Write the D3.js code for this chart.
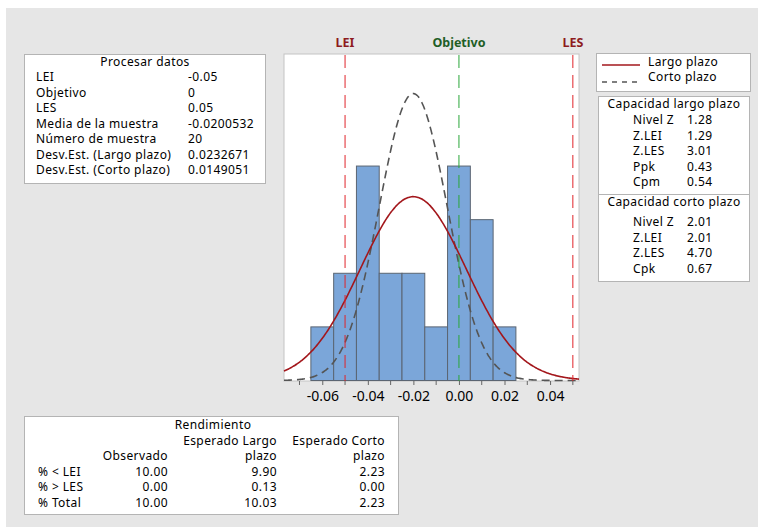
<!DOCTYPE html>
<html>
<head>
<meta charset="utf-8">
<script src="https://cdn.jsdelivr.net/npm/d3@7"></script>
<style>
  body { margin: 0; background: #fff; }
  svg text { font-family: "Noto Sans", sans-serif; fill: #000; }
</style>
</head>
<body>
<div id="chart"></div>
<script>
// histogram data (bin width 0.01)
var binStarts = [-0.065, -0.055, -0.045, -0.035, -0.025, -0.015, -0.005, 0.005, 0.015];
var counts = [1, 2, 4, 2, 2, 1, 4, 3, 1];
var binWidth = 0.01;

// spec limits and sample stats
var LEI = -0.05, objetivo = 0, LES = 0.05;
var media = -0.0200532;
var nMuestra = 20;
var sdLargo = 0.0232671;
var sdCorto = 0.0149051;

// axis ticks
var majorTicks = [-0.06, -0.04, -0.02, 0.00, 0.02, 0.04];
var minorTicks = [-0.07, -0.05, -0.03, -0.01, 0.01, 0.03, 0.05];

// text tables
var procesarLabels = ["LEI", "Objetivo", "LES", "Media de la muestra", "Número de muestra", "Desv.Est. (Largo plazo)", "Desv.Est. (Corto plazo)"];
var procesarValues = ["-0.05", "0", "0.05", "-0.0200532", "20", "0.0232671", "0.0149051"];
var largoLabels = ["Nivel Z", "Z.LEI", "Z.LES", "Ppk", "Cpm"];
var largoValues = ["1.28", "1.29", "3.01", "0.43", "0.54"];
var cortoLabels = ["Nivel Z", "Z.LEI", "Z.LES", "Cpk"];
var cortoValues = ["2.01", "2.01", "4.70", "0.67"];
var rendRows = ["% < LEI", "% > LES", "% Total"];
var rendObservado = ["10.00", "0.00", "10.00"];
var rendLargo = ["9.90", "0.13", "10.03"];
var rendCorto = ["2.23", "0.00", "2.23"];

var svgWidth = 758, svgHeight = 527;

var svg = d3.select("#chart")
  .append("svg")
  .attr("width", svgWidth)
  .attr("height", svgHeight);

// gray background panel
svg.append("rect")
  .attr("x", 6).attr("y", 8)
  .attr("width", svgWidth - 6).attr("height", svgHeight - 8)
  .attr("fill", "#e6e6e6");

// plot area
var plot = { left: 284, right: 579, top: 54, bottom: 381 };

var x = d3.scaleLinear()
  .domain([-0.0768, 0.0527])
  .range([plot.left, plot.right]);

var y = d3.scaleLinear()
  .domain([0, 6.09])
  .range([380.5, plot.top]);

svg.append("rect")
  .attr("x", plot.left).attr("y", plot.top)
  .attr("width", plot.right - plot.left).attr("height", plot.bottom - plot.top)
  .attr("fill", "#fff")
  .attr("stroke", "#c4c4c4");

// bars
svg.selectAll("rect.bar")
  .data(binStarts)
  .enter()
  .append("rect")
  .classed("bar", true)
  .attr("x", d => x(d))
  .attr("y", (d, i) => y(counts[i]))
  .attr("width", d => x(d + binWidth) - x(d))
  .attr("height", (d, i) => y(0) - y(counts[i]))
  .attr("fill", "#7ba6d9")
  .attr("stroke", "#5b6572")
  .attr("stroke-width", 1);

// fitted normal curves, scaled to counts
function normalCurve(sd) {
  var pts = [];
  var x0 = x.domain()[0], x1 = x.domain()[1];
  for (var v = x0; v <= x1 + 1e-9; v += 0.0005) {
    var z = (v - media) / sd;
    var dens = Math.exp(-0.5 * z * z) / (sd * Math.sqrt(2 * Math.PI));
    pts.push([v, dens * nMuestra * binWidth]);
  }
  return pts;
}

var line = d3.line()
  .x(d => x(d[0]))
  .y(d => y(d[1]))
  .curve(d3.curveBasis);

svg.append("path")
  .datum(normalCurve(sdCorto))
  .attr("d", line)
  .attr("fill", "none")
  .attr("stroke", "#555")
  .attr("stroke-width", 1.6)
  .attr("stroke-dasharray", "8,5");

svg.append("path")
  .datum(normalCurve(sdLargo))
  .attr("d", line)
  .attr("fill", "none")
  .attr("stroke", "#a3171c")
  .attr("stroke-width", 1.6);

// reference lines
var refLines = [
  { v: LEI, name: "LEI", line: "#e0242a", label: "#8e1b1e" },
  { v: objetivo, name: "Objetivo", line: "#2aa63a", label: "#1f5e26" },
  { v: LES, name: "LES", line: "#e0242a", label: "#8e1b1e" }
];

svg.selectAll("line.ref")
  .data(refLines)
  .enter()
  .append("line")
  .attr("x1", d => x(d.v)).attr("x2", d => x(d.v))
  .attr("y1", plot.top + 1).attr("y2", plot.bottom)
  .attr("stroke", d => d.line)
  .attr("stroke-width", 1)
  .attr("stroke-dasharray", "13,7");

svg.selectAll("text.ref")
  .data(refLines)
  .enter()
  .append("text")
  .attr("x", d => x(d.v))
  .attr("y", 47)
  .attr("text-anchor", "middle")
  .style("font-size", "12.5px")
  .style("font-weight", "bold")
  .style("fill", d => d.label)
  .text(d => d.name);

// x axis
var bottomAxis = d3.axisBottom(x)
  .tickValues(majorTicks)
  .tickSize(4)
  .tickFormat(d => d.toFixed(2));

var axisG = svg.append("g")
  .attr("transform", `translate(0, ${plot.bottom})`)
  .call(bottomAxis);
axisG.select(".domain").remove();
axisG.selectAll("line").attr("stroke", "#666");
axisG.selectAll("text")
  .attr("dy", "0.95em")
  .style("font-size", "14px")
  .style("font-family", "Noto Sans, sans-serif")
  .style("fill", "#000");

svg.selectAll("line.minor")
  .data(minorTicks)
  .enter()
  .append("line")
  .attr("x1", d => x(d)).attr("x2", d => x(d))
  .attr("y1", plot.bottom).attr("y2", plot.bottom + 4)
  .attr("stroke", "#666");

// helper for boxes
function box(x0, y0, w, h) {
  svg.append("rect")
    .attr("x", x0).attr("y", y0)
    .attr("width", w).attr("height", h)
    .attr("fill", "#fff")
    .attr("stroke", "#b4b4b4");
}
function txt(tx, ty, s, anchor) {
  return svg.append("text")
    .attr("x", tx).attr("y", ty)
    .attr("text-anchor", anchor || "start")
    .attr("dominant-baseline", "middle")
    .style("font-size", "12px")
    .style("letter-spacing", "0.4px")
    .text(s);
}

// Procesar datos
box(24.5, 54.5, 241, 129);
txt(145, 62.5, "Procesar datos", "middle");
procesarLabels.forEach(function(l, i) {
  txt(36, 78 + i * 15.5, l);
  txt(188, 78 + i * 15.5, procesarValues[i]);
});

// legend
box(596.5, 53.5, 154, 38);
svg.append("line")
  .attr("x1", 602).attr("x2", 640).attr("y1", 65).attr("y2", 65)
  .attr("stroke", "#a3171c").attr("stroke-width", 1.6);
svg.append("line")
  .attr("x1", 602).attr("x2", 640).attr("y1", 82).attr("y2", 82)
  .attr("stroke", "#555").attr("stroke-width", 1.6)
  .attr("stroke-dasharray", "5,5");
txt(648, 62.5, "Largo plazo");
txt(648, 78, "Corto plazo");

// capacidad
box(598.5, 96.5, 151, 185);
svg.append("line")
  .attr("x1", 598.5).attr("x2", 749.5).attr("y1", 194.5).attr("y2", 194.5)
  .attr("stroke", "#b4b4b4");
txt(674, 105, "Capacidad largo plazo", "middle");
largoLabels.forEach(function(l, i) {
  txt(633, 121 + i * 15.5, l);
  txt(687, 121 + i * 15.5, largoValues[i]);
});
txt(674, 203, "Capacidad corto plazo", "middle");
cortoLabels.forEach(function(l, i) {
  txt(633, 223 + i * 15.5, l);
  txt(687, 223 + i * 15.5, cortoValues[i]);
});

// rendimiento
box(24.5, 416.5, 374, 98);
txt(213, 426, "Rendimiento", "middle");
txt(277, 441.5, "Esperado Largo", "end");
txt(385, 441.5, "Esperado Corto", "end");
txt(168, 457, "Observado", "end");
txt(277, 457, "plazo", "end");
txt(385, 457, "plazo", "end");
rendRows.forEach(function(r, i) {
  var yy = 472.5 + i * 15.5;
  txt(38, yy, r);
  txt(168, yy, rendObservado[i], "end");
  txt(277, yy, rendLargo[i], "end");
  txt(385, yy, rendCorto[i], "end");
});
</script>
</body>
</html>
